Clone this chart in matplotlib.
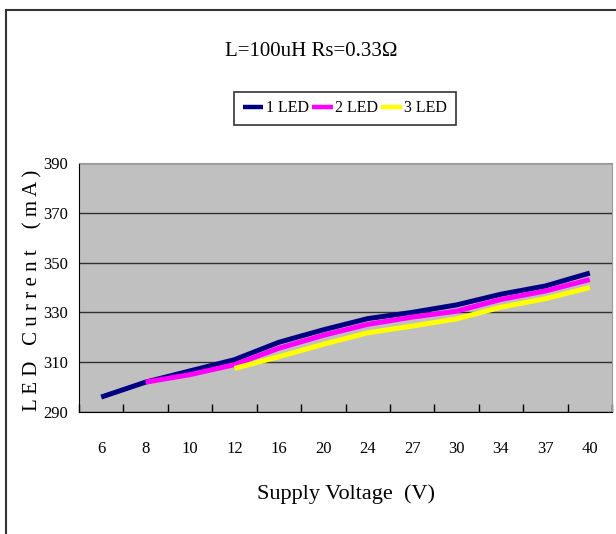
import numpy as np
import matplotlib
matplotlib.use("Agg")
import matplotlib.pyplot as plt
from matplotlib.lines import Line2D

# data
voltages = ["6", "8", "10", "12", "16", "20", "24", "27", "30", "34", "37", "40"]
led1 = [296, 302, 306.5, 311, 318, 323, 327.5, 330, 333, 337.3, 340.6, 345.8]
led2 = [np.nan, 302, 305, 309, 315.6, 320.8, 325.2, 328.1, 330.5, 335.2, 338.6, 343.2]
led3 = [np.nan, np.nan, np.nan, 307.5, 312.2, 317.2, 321.8, 324.5, 327.4, 332.1, 335.5, 340]
series_names = ["1 LED", "2 LED", "3 LED"]
y_ticks = [290, 310, 330, 350, 370, 390]

plt.rcParams['font.family'] = ['Liberation Serif', 'DejaVu Serif']

W, H = 616, 534
fig = plt.figure(figsize=(W / 100, H / 100), dpi=100)
ax = fig.add_axes([79 / W, 1 - 412 / H, 533 / W, 249 / H])
ax.set_facecolor('#c0c0c0')

x = np.arange(len(voltages))
ax.plot(x, led1, color='#000080', lw=3.6, label=series_names[0], solid_capstyle='butt')
ax.plot(x, led2, color='#ff00ff', lw=3.6, label=series_names[1], solid_capstyle='butt')
ax.plot(x, led3, color='#ffff00', lw=3.6, label=series_names[2], solid_capstyle='butt')

ax.set_xlim(-0.5, len(voltages) - 0.5)
ax.set_ylim(290, 390)
ax.set_yticks(y_ticks)
ax.set_xticks(x)
ax.set_xticklabels(voltages)
ax.set_xticks(np.arange(len(voltages) + 1) - 0.5, minor=True)
ax.tick_params(axis='x', which='major', length=0, pad=21, labelsize=12)
ax.tick_params(axis='x', which='minor', length=6, direction='in', width=1, color='black')
ax.tick_params(axis='y', length=0, pad=8, labelsize=12)
ax.yaxis.grid(True, color='#303030', lw=1)
ax.set_axisbelow(True)
for s in ['top', 'right']:
    ax.spines[s].set_color('#999999')
for s in ['left', 'bottom']:
    ax.spines[s].set_color('black')

fig.text(311 / W, 1 - 52 / H, "L=100uH Rs=0.33Ω", ha='center', va='center', fontsize=15)
fig.text(346 / W, 1 - 494 / H, "Supply Voltage  (V)", ha='center', va='center', fontsize=16)
fig.text(33 / W, 1 - 290 / H, "L E D   C u r r e n t    ( m A )", rotation=90,
         ha='center', va='center', fontsize=15)

leg = fig.legend(loc='center', bbox_to_anchor=(345 / W, 1 - 108.5 / H), ncol=3,
                 frameon=True, fancybox=False, edgecolor='black', fontsize=11.5,
                 handlelength=1.3, handletextpad=0.15, columnspacing=0.2,
                 borderpad=0.55, borderaxespad=0)
leg.get_frame().set_linewidth(1.2)
for h in leg.get_lines():
    h.set_linewidth(3.2)

# outer chart border (only left and top visible)
fig.add_artist(Line2D([5.5 / W, 5.5 / W], [0, 1 - 10 / H], color='#333333', lw=1.5))
fig.add_artist(Line2D([5.5 / W, 1], [1 - 10 / H, 1 - 10 / H], color='#333333', lw=1.5))

plt.savefig('out.png', dpi=100)
